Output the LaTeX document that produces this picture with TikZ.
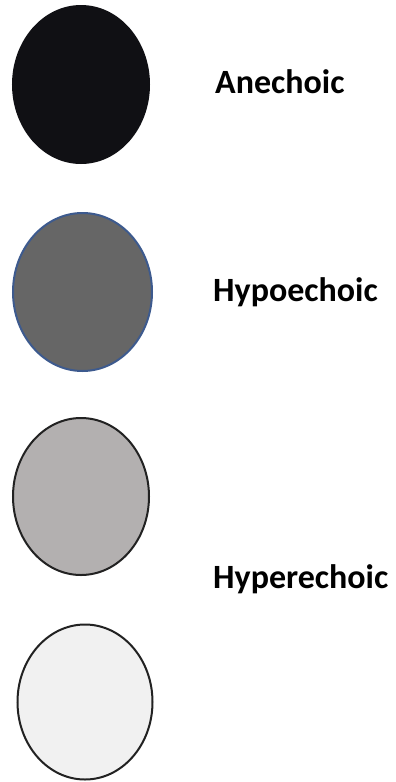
\documentclass[tikz,border=0pt]{standalone}
\usepackage{fontspec}
\setmainfont{Carlito}
\usetikzlibrary{shapes.geometric}
\definecolor{anefill}{HTML}{101014}
\definecolor{hypofill}{HTML}{666666}
\definecolor{hypoline}{HTML}{3D5A8E}
\definecolor{hyperfill}{HTML}{B3B0B0}
\definecolor{palefill}{HTML}{F1F1F1}
\definecolor{ringline}{HTML}{222222}
\tikzset{
  blob/.style={ellipse, inner sep=0pt, line width=2pt},
  label text/.style={anchor=base west, inner sep=0pt, font=\fontsize{34}{40}\selectfont\bfseries}
}
\begin{document}
\begin{tikzpicture}[x=1pt,y=-1pt]
\useasboundingbox[fill=white] (0,0) rectangle (396,782);
\node[blob, fill=anefill, draw=anefill, minimum width=136pt, minimum height=157pt] (e1) at (81,84.5) {};
\node[blob, fill=hypofill, draw=hypoline, minimum width=139pt, minimum height=158pt] (e2) at (82.5,292) {};
\node[blob, fill=hyperfill, draw=ringline, minimum width=136pt, minimum height=157pt] (e3) at (81,496.5) {};
\node[blob, fill=palefill, draw=ringline, minimum width=135pt, minimum height=155pt] (e4) at (85,702) {};
\node[label text] (t1) at (215,93) {Anechoic};
\node[label text] (t2) at (213,301) {Hypoechoic};
\node[label text] (t3) at (213,588) {Hyperechoic};
\end{tikzpicture}
\end{document}
